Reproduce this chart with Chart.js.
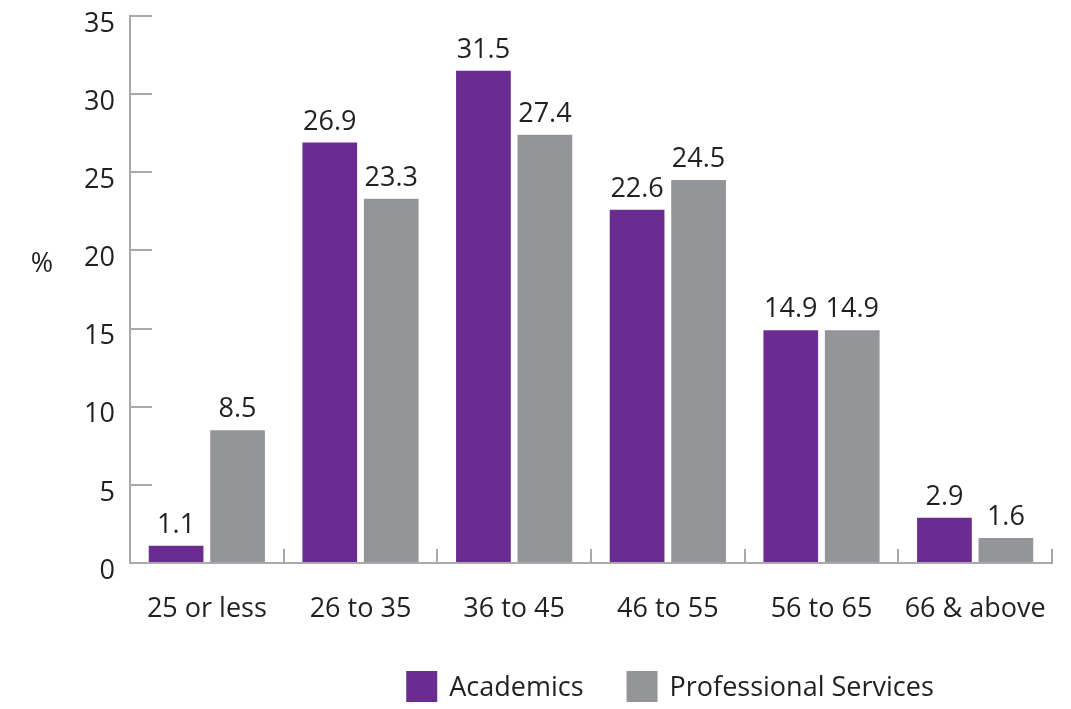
<!DOCTYPE html>
<html>
<head>
<meta charset="utf-8">
<script src="https://cdn.jsdelivr.net/npm/chart.js@4.4.1/dist/chart.umd.min.js"></script>
<style>
  html, body { margin: 0; padding: 0; background: #ffffff; }
  #wrap { width: 1071px; height: 709px; position: relative; }
</style>
</head>
<body>
<div id="wrap"><canvas id="chart" width="1071" height="709"></canvas></div>
<script>
// Age bands and share of staff (%) in each
const ageBands = ['25 or less', '26 to 35', '36 to 45', '46 to 55', '56 to 65', '66 & above'];
const academics = [1.1, 26.9, 31.5, 22.6, 14.9, 2.9];
const professionalServices = [8.5, 23.3, 27.4, 24.5, 14.9, 1.6];
const seriesNames = ['Academics', 'Professional Services'];
const yTicks = [0, 5, 10, 15, 20, 25, 30, 35];

const FONT = '"Open Sans", "Noto Sans", sans-serif';
const FONT_SIZE = 27;
const TEXT = '#231f20';
const AXIS = '#a7a9ac';
const PURPLE = '#6a2c90';
const GREY = '#939598';

// Value labels printed above each bar
const valueLabels = {
  id: 'valueLabels',
  afterDatasetsDraw(chart) {
    const ctx = chart.ctx;
    ctx.save();
    ctx.font = FONT_SIZE + 'px ' + FONT;
    ctx.fillStyle = TEXT;
    ctx.textAlign = 'center';
    ctx.textBaseline = 'alphabetic';
    chart.data.datasets.forEach((ds, di) => {
      const meta = chart.getDatasetMeta(di);
      meta.data.forEach((bar, i) => {
        ctx.fillText(ds.data[i].toFixed(1), bar.x, bar.y - 13);
      });
    });
    ctx.restore();
  }
};

// Upright "%" axis caption
const axisCaption = {
  id: 'axisCaption',
  afterDraw(chart) {
    const ctx = chart.ctx;
    ctx.save();
    ctx.font = FONT_SIZE + 'px ' + FONT;
    ctx.fillStyle = TEXT;
    ctx.textAlign = 'center';
    ctx.textBaseline = 'middle';
    ctx.fillText('%', 42, 264);
    ctx.restore();
  }
};

// Square-swatch legend under the plot
const swatchLegend = {
  id: 'swatchLegend',
  afterDraw(chart) {
    const ctx = chart.ctx;
    const box = 31, gap = 12, itemGap = 43, top = 671, centerX = 670;
    ctx.save();
    ctx.font = FONT_SIZE + 'px ' + FONT;
    const items = chart.data.datasets.map(ds => ({
      label: ds.label, color: ds.backgroundColor, w: ctx.measureText(ds.label).width
    }));
    const total = items.reduce((s, it) => s + box + gap + it.w, 0) + itemGap * (items.length - 1);
    let x = centerX - total / 2;
    items.forEach(it => {
      ctx.fillStyle = it.color;
      ctx.fillRect(x, top, box, box);
      ctx.fillStyle = TEXT;
      ctx.textAlign = 'left';
      ctx.textBaseline = 'middle';
      ctx.fillText(it.label, x + box + gap, top + box / 2 + 2);
      x += box + gap + it.w + itemGap;
    });
    ctx.restore();
  }
};

new Chart(document.getElementById('chart'), {
  type: 'bar',
  data: {
    labels: ageBands,
    datasets: [
      { label: seriesNames[0], data: academics, backgroundColor: PURPLE,
        categoryPercentage: 0.8, barPercentage: 0.89 },
      { label: seriesNames[1], data: professionalServices, backgroundColor: GREY,
        categoryPercentage: 0.8, barPercentage: 0.89 }
    ]
  },
  options: {
    responsive: false,
    animation: false,
    devicePixelRatio: 1,
    layout: { padding: { top: 16, right: 19, bottom: 76, left: 0 } },
    plugins: {
      legend: { display: false },
      tooltip: { enabled: false }
    },
    scales: {
      x: {
        grid: {
          display: true, drawOnChartArea: false, drawTicks: true,
          tickLength: -14, color: AXIS, lineWidth: 2, offset: true
        },
        border: { display: true, color: AXIS, width: 2 },
        ticks: {
          color: TEXT, font: { family: FONT, size: FONT_SIZE },
          padding: 44, maxRotation: 0, autoSkip: false
        },
        afterFit(scale) {
          scale.height = 70;
          scale.paddingLeft = 0;
          scale.paddingRight = 0;
        }
      },
      y: {
        min: 0, max: 35,
        afterBuildTicks(scale) { scale.ticks = yTicks.map(v => ({ value: v })); },
        grid: {
          display: true, drawOnChartArea: false, drawTicks: true,
          tickLength: -22, color: AXIS, lineWidth: 2
        },
        border: { display: true, color: AXIS, width: 2 },
        ticks: {
          color: TEXT, font: { family: FONT, size: FONT_SIZE },
          padding: 37, labelOffset: 8
        },
        afterFit(scale) {
          scale.width = 130;
          scale.paddingTop = 0;
          scale.paddingBottom = 0;
        }
      }
    }
  },
  plugins: [valueLabels, axisCaption, swatchLegend]
});
</script>
</body>
</html>
